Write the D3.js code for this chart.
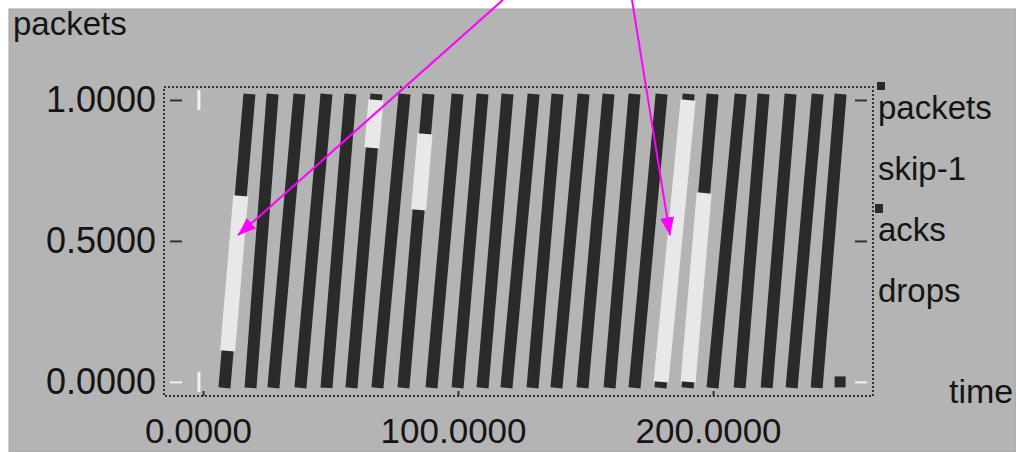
<!DOCTYPE html>
<html>
<head>
<meta charset="utf-8">
<script src="https://cdn.jsdelivr.net/npm/d3@7"></script>
<style>
  html, body { margin: 0; padding: 0; background: #fff; }
  svg { display: block; }
  text { font-family: "Liberation Sans", Arial, sans-serif; fill: #151515; }
</style>
</head>
<body>
<div id="chart"></div>
<script>
// each strip: time of seq 0 and time of seq 1
const stripStart = [8.6, 18.8, 27.8, 38.4, 48.6, 58.4, 68.6, 78.8, 89.8, 100.0, 109.8, 119.2,
  129.4, 138.8, 149.0, 159.6, 169.4, 179.6, 190.2, 200.0, 210.6, 221.2, 231.0, 240.8];
const stripEnd = [18.0, 27.1, 37.6, 48.2, 57.6, 67.8, 78.8, 88.2, 99.6, 109.4, 119.2, 129.4,
  138.8, 149.0, 158.8, 169.0, 179.6, 190.2, 199.6, 210.6, 219.6, 230.2, 240.8, 249.8];
// skip-1 parts of strips (strip index, low seq, high seq)
const skipStrip = [0, 5, 7, 17, 18];
const skipLow = [0.11, 0.83, 0.61, 0, 0];
const skipHigh = [0.66, 1, 0.88, 1, 0.67];
// last packet sent
const lastTime = [249.8];
const lastSeq = [0];
// drops at the left edge
const dropTimes = [-1.6, -1.6];
const dropSeqs = [1, 0];
const xTicks = [0, 100, 200];
const yTicks = [0, 0.5, 1];
const legendLabels = ["packets", "skip-1", "acks", "drops"];
// arrows (from, to) in data units
const arrowFromT = [117.6, 168.2];
const arrowFromS = [1.355, 1.355];
const arrowToT = [13.7, 183.1];
const arrowToS = [0.52, 0.52];

const width = 1016;
const height = 452;
const dark = "#2a2a2a";
const light = "#e8e8e8";

const svg = d3.select("#chart").append("svg")
  .attr("width", width)
  .attr("height", height);

// background
svg.append("rect").attr("x", 9).attr("y", 9).attr("width", width - 9).attr("height", height - 9)
  .attr("fill", "#b4b4b4").attr("stroke", "#a2a2a2").attr("stroke-width", 1);

// Scales (plot box edges)
const x = d3.scaleLinear().domain([-15.3, 262.7]).range([164, 873]);
const y = d3.scaleLinear().domain([-0.05, 1.046]).range([396, 87]);

// strips
const plot = svg.append("g");
plot.selectAll("line.pkt")
  .data(stripStart)
  .enter()
  .append("line")
  .attr("class", "pkt")
  .attr("x1", (d) => x(d))
  .attr("y1", y(0))
  .attr("x2", (d, i) => x(stripEnd[i]))
  .attr("y2", y(1))
  .attr("stroke", dark)
  .attr("stroke-width", 12)
  .attr("stroke-linecap", "square");

const along = (i, s) => stripStart[i] + (stripEnd[i] - stripStart[i]) * s;
plot.selectAll("line.skip")
  .data(skipStrip)
  .enter()
  .append("line")
  .attr("class", "skip")
  .attr("x1", (d, i) => x(along(d, skipLow[i])))
  .attr("y1", (d, i) => y(skipLow[i]))
  .attr("x2", (d, i) => x(along(d, skipHigh[i])))
  .attr("y2", (d, i) => y(skipHigh[i]))
  .attr("stroke", light)
  .attr("stroke-width", 15);

plot.selectAll("rect.last")
  .data(lastTime)
  .enter()
  .append("rect")
  .attr("x", (d) => x(d) - 5.5)
  .attr("y", (d, i) => y(lastSeq[i]) - 5.5)
  .attr("width", 11)
  .attr("height", 11)
  .attr("fill", dark);

plot.selectAll("line.drop")
  .data(dropTimes)
  .enter()
  .append("line")
  .attr("x1", (d) => x(d))
  .attr("x2", (d) => x(d))
  .attr("y1", (d, i) => y(dropSeqs[i]) - 10)
  .attr("y2", (d, i) => y(dropSeqs[i]) + 10)
  .attr("stroke", "#f2f2f2")
  .attr("stroke-width", 3);

// Axes
const tickColor = (d) => (d === 0 ? "#f2f2f2" : "#333");
const yAxis = d3.axisLeft(y).tickValues(yTicks).tickFormat(d3.format(".4f"))
  .tickSizeInner(-12).tickSizeOuter(0).tickPadding(8);
const gy = svg.append("g").attr("transform", "translate(164,0)").call(yAxis);
gy.select(".domain").remove();
gy.selectAll(".tick line").attr("stroke", tickColor).attr("stroke-width", 2)
  .attr("transform", "translate(6,0)");
gy.selectAll(".tick text").attr("font-size", 36).attr("font-family", "Liberation Sans").attr("fill", "#151515");

const yAxisR = d3.axisRight(y).tickValues(yTicks).tickFormat("").tickSizeInner(-12).tickSizeOuter(0);
const gyr = svg.append("g").attr("transform", "translate(873,0)").call(yAxisR);
gyr.select(".domain").remove();
gyr.selectAll(".tick line").attr("stroke", tickColor).attr("stroke-width", 2)
  .attr("transform", "translate(-6,0)");

const xAxis = d3.axisBottom(x).tickValues(xTicks).tickFormat(d3.format(".4f"))
  .tickSizeInner(-5).tickSizeOuter(0).tickPadding(22);
const gx = svg.append("g").attr("transform", "translate(0,396)").call(xAxis);
gx.select(".domain").remove();
gx.selectAll(".tick line").attr("stroke", "#333").attr("stroke-width", 2);
gx.selectAll(".tick text").attr("font-size", 35).attr("font-family", "Liberation Sans")
  .attr("fill", "#151515").attr("dx", -5);

// dotted frame
svg.append("rect")
  .attr("x", x.range()[0]).attr("y", y.range()[1])
  .attr("width", x.range()[1] - x.range()[0])
  .attr("height", y.range()[0] - y.range()[1])
  .attr("fill", "none")
  .attr("stroke", "#333")
  .attr("stroke-width", 2)
  .attr("stroke-dasharray", "2,2");

// labels
svg.append("text").attr("x", 13).attr("y", 35).attr("font-size", 33).text("packets");
svg.append("text").attr("x", 949).attr("y", 403).attr("font-size", 34).text("time");

// legend
svg.selectAll("text.legend")
  .data(legendLabels)
  .enter()
  .append("text")
  .attr("class", "legend")
  .attr("x", 878)
  .attr("y", (d, i) => 119 + i * 61)
  .attr("font-size", 33)
  .text((d) => d);
svg.append("rect").attr("x", 877).attr("y", 82).attr("width", 8).attr("height", 8).attr("fill", dark);
svg.append("rect").attr("x", 875).attr("y", 204).attr("width", 8).attr("height", 9).attr("fill", dark);

// arrows
const defs = svg.append("defs");
defs.append("marker")
  .attr("id", "head")
  .attr("markerUnits", "userSpaceOnUse")
  .attr("viewBox", "0 0 18 14")
  .attr("refX", 18)
  .attr("refY", 7)
  .attr("markerWidth", 18)
  .attr("markerHeight", 14)
  .attr("orient", "auto")
  .append("path")
  .attr("d", "M0,0L18,7L0,14Z")
  .attr("fill", "#ff00ff");

svg.selectAll("line.arrow")
  .data(arrowFromT)
  .enter()
  .append("line")
  .attr("x1", (d) => x(d))
  .attr("y1", (d, i) => y(arrowFromS[i]))
  .attr("x2", (d, i) => x(arrowToT[i]))
  .attr("y2", (d, i) => y(arrowToS[i]))
  .attr("stroke", "#ff00ff")
  .attr("stroke-width", 2)
  .attr("marker-end", "url(#head)");
</script>
</body>
</html>
